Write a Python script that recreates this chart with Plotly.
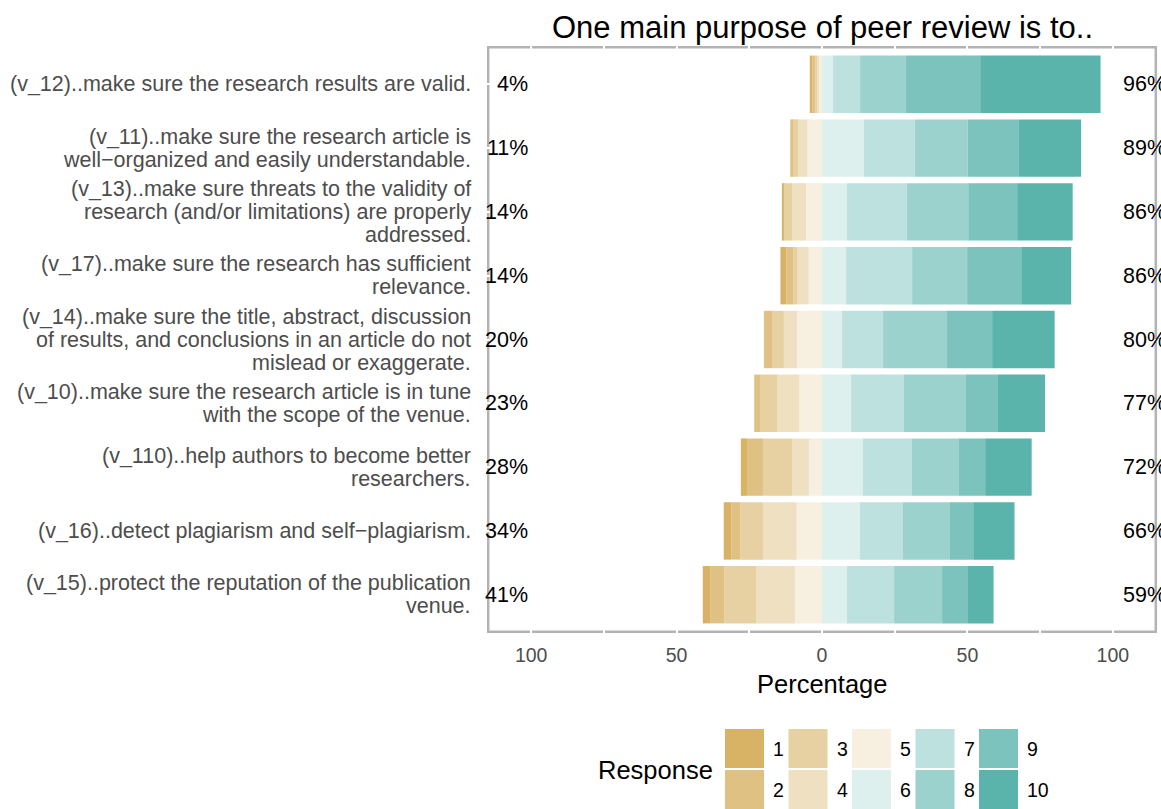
import plotly.graph_objects as go

# ---------------- data ----------------
categories = [
    "(v_12)..make sure the research results are valid.",
    "(v_11)..make sure the research article is\nwell\u2212organized and easily understandable.",
    "(v_13)..make sure threats to the validity of\nresearch (and/or limitations) are properly\naddressed.",
    "(v_17)..make sure the research has sufficient\nrelevance.",
    "(v_14)..make sure the title, abstract, discussion\nof results, and conclusions in an article do not\nmislead or exaggerate.",
    "(v_10)..make sure the research article is in tune\nwith the scope of the venue.",
    "(v_110)..help authors to become better\nresearchers.",
    "(v_16)..detect plagiarism and self\u2212plagiarism.",
    "(v_15)..protect the reputation of the publication\nvenue.",
]
pct_1 = [0.9, 0.0, 0.7, 2.1, 0.0, 0.0, 2.1, 2.7, 2.7]
pct_2 = [1.0, 0.6, 0.0, 2.4, 2.8, 2.0, 5.5, 3.1, 4.8]
pct_3 = [0.7, 2.2, 2.8, 1.4, 4.1, 6.0, 10.0, 7.9, 10.9]
pct_4 = [0.7, 3.1, 4.8, 3.8, 4.5, 7.5, 5.8, 11.4, 13.3]
pct_5 = [0.9, 5.0, 5.5, 4.6, 8.6, 7.8, 4.5, 8.7, 9.3]
pct_6 = [3.8, 14.4, 8.6, 8.3, 6.9, 10.0, 14.0, 13.0, 8.6]
pct_7 = [9.3, 17.5, 20.5, 22.7, 14.1, 18.2, 16.8, 14.7, 16.2]
pct_8 = [15.8, 18.2, 21.2, 18.9, 22.0, 21.3, 16.1, 16.1, 16.5]
pct_9 = [25.5, 17.4, 16.8, 18.6, 15.5, 11.0, 9.2, 8.2, 8.9]
pct_10 = [41.4, 21.6, 19.1, 17.2, 21.5, 16.2, 16.0, 14.2, 8.8]

response_levels = ["1", "2", "3", "4", "5", "6", "7", "8", "9", "10"]
level_values = [pct_1, pct_2, pct_3, pct_4, pct_5, pct_6, pct_7, pct_8, pct_9, pct_10]
level_colors = ["#D8B365", "#DFC283", "#E7D1A2", "#EFE0C1", "#F7EFE0",
                "#DEF0EE", "#BDE1DE", "#9CD2CD", "#7BC3BC", "#5AB4AC"]

tick_vals = [-100, -50, 0, 50, 100]
tick_text = ["100", "50", "0", "50", "100"]

title_text = "One main purpose of peer review is to.."
x_title = "Percentage"
legend_title = "Response"

FONT = "Liberation Sans, Arial, Helvetica, sans-serif"
GRAY_TXT = "#4D4D4D"

# ---------------- figure geometry (pixels) ----------------
W, H = 1161, 809
PL, PR, PT, PB = 487, 1157, 46, 633
pw, ph = PR - PL, PB - PT


def px_x(px):
    return (px - PL) / pw


def px_y(py):
    return (PB - py) / ph


fig = go.Figure()

# negative side: 5 nearest zero, then outward
n_neg = 5
for i in list(range(n_neg - 1, -1, -1)) + list(range(n_neg, 10)):
    vals = level_values[i]
    xs = [-v for v in vals] if i < n_neg else list(vals)
    fig.add_trace(go.Bar(
        y=categories, x=xs, orientation="h", name=response_levels[i],
        marker=dict(color=level_colors[i], line=dict(width=0)),
        width=0.9, showlegend=False,
    ))

annotations = []
# totals
for j, cat in enumerate(categories):
    left = sum(level_values[i][j] for i in range(n_neg))
    right = sum(level_values[i][j] for i in range(n_neg, 10))
    annotations.append(dict(x=-100.4, y=cat, xref="x", yref="y", text=f"{round(left)}%",
                            xanchor="right", yanchor="middle", showarrow=False,
                            font=dict(size=21.5, color="black", family=FONT)))
    annotations.append(dict(x=102.9, y=cat, xref="x", yref="y", text=f"{round(right)}%",
                            xanchor="left", yanchor="middle", showarrow=False,
                            font=dict(size=21.5, color="black", family=FONT)))
    # category labels, line by line
    lines = cat.split("\n")
    n = len(lines)
    for k, ln in enumerate(lines):
        annotations.append(dict(x=px_x(473), y=cat, xref="paper", yref="y", text=ln,
                                xanchor="right", yanchor="middle", showarrow=False,
                                yshift=-(k - (n - 1) / 2) * 23,
                                font=dict(size=21.5, color=GRAY_TXT, family=FONT)))

# title and axis title
annotations.append(dict(x=0.5, y=px_y(27), xref="paper", yref="paper", text=title_text,
                        xanchor="center", yanchor="middle", showarrow=False,
                        font=dict(size=31, color="black", family=FONT)))
annotations.append(dict(x=0.5, y=px_y(684), xref="paper", yref="paper", text=x_title,
                        xanchor="center", yanchor="middle", showarrow=False,
                        font=dict(size=25.5, color="black", family=FONT)))

shapes = []
# panel border
shapes.append(dict(type="rect", xref="paper", yref="paper",
                   x0=1.2 / pw, x1=1 - 1.2 / pw, y0=1.2 / ph, y1=1 - 1.2 / ph,
                   line=dict(color="#B3B3B3", width=2.5), fillcolor="rgba(0,0,0,0)",
                   layer="below"))
# zero line
shapes.append(dict(type="line", xref="x", yref="paper", x0=0, x1=0, y0=0, y1=1,
                   line=dict(color="black", width=2, dash="dash"), layer="between"))

# manual legend (2 rows, column-major)
sw = 39
for k, lab in enumerate(response_levels):
    col, row = k // 2, k % 2
    x0 = 725 + col * 63.5
    y0 = 729 + row * 41
    shapes.append(dict(type="rect", xref="paper", yref="paper",
                       x0=px_x(x0), x1=px_x(x0 + sw), y0=px_y(y0 + sw), y1=px_y(y0),
                       fillcolor=level_colors[k], line=dict(width=0), layer="above"))
    annotations.append(dict(x=px_x(x0 + sw + 7), y=px_y(y0 + sw / 2), xref="paper", yref="paper",
                            text=lab, xanchor="left", yanchor="middle", showarrow=False,
                            font=dict(size=19.5, color="black", family=FONT)))
annotations.append(dict(x=px_x(715), y=px_y(770), xref="paper", yref="paper",
                        text=legend_title, xanchor="right", yanchor="middle", showarrow=False,
                        font=dict(size=25.5, color="black", family=FONT)))

fig.update_layout(
    width=W, height=H,
    margin=dict(l=PL, r=W - PR, t=PT, b=H - PB, pad=0),
    paper_bgcolor="white", plot_bgcolor="white",
    barmode="relative", bargap=0.1,
    font=dict(family=FONT),
    annotations=annotations, shapes=shapes,
    xaxis=dict(range=[-115.2, 115.2], tickmode="array", tickvals=tick_vals, ticktext=tick_text,
               tickfont=dict(size=19.5, color=GRAY_TXT, family=FONT),
               showgrid=True, gridcolor="white", gridwidth=1.5, zeroline=False, showline=False,
               ticks="", ticklabelstandoff=8,
               minor=dict(tickvals=[-75, -25, 25, 75], showgrid=True, gridcolor="white", gridwidth=1.5)),
    yaxis=dict(type="category", categoryorder="array", categoryarray=categories,
               range=[len(categories) - 0.4, -0.6], showticklabels=False,
               showgrid=True, gridcolor="white", gridwidth=1.5, zeroline=False, showline=False),
)

fig.write_html(
    "out.html",
    config={"displayModeBar": False},
    post_script="document.body.style.margin='0';document.body.style.overflow='hidden';",
)
